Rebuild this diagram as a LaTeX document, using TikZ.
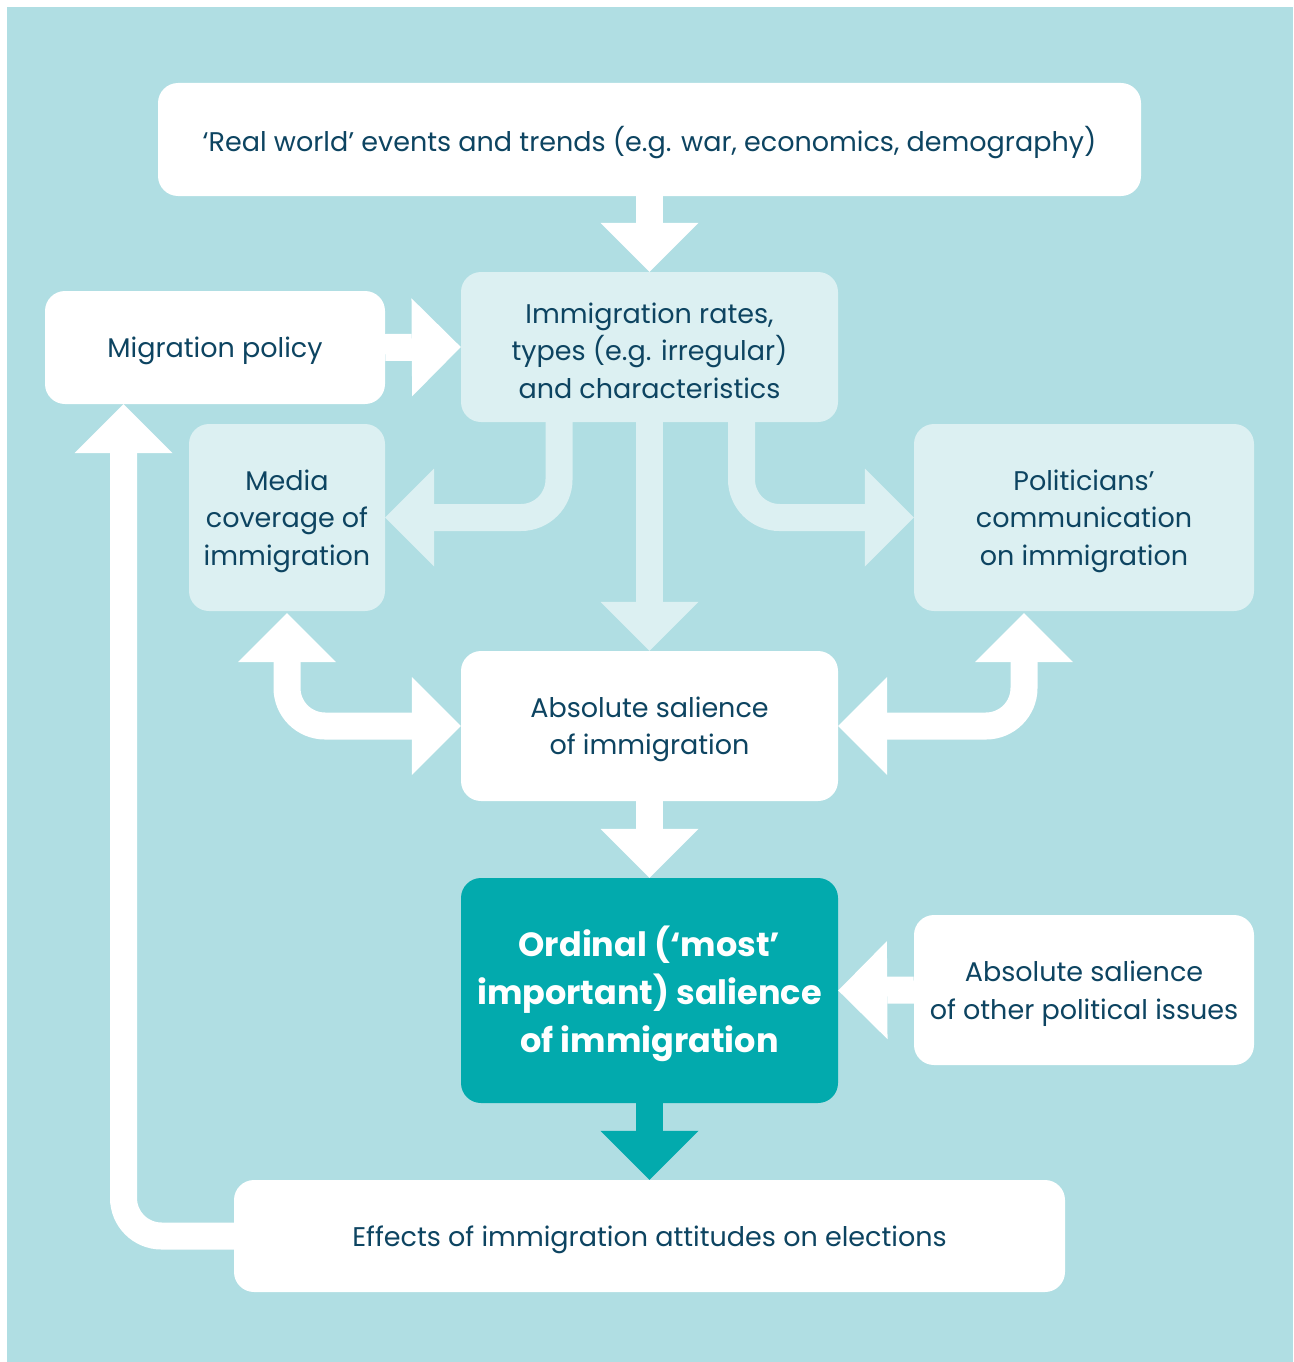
\documentclass[tikz,border=0pt]{standalone}
\usepackage{fontspec}
\setmainfont{Poppins}
\usetikzlibrary{arrows.meta,calc}
\definecolor{bgc}{HTML}{B0DEE3}
\definecolor{lightc}{HTML}{DCF0F2}
\definecolor{tealc}{HTML}{02AAAD}
\definecolor{textc}{HTML}{0D4461}
\tikzset{
  box/.style={rounded corners=20pt, inner sep=0pt},
  whitebox/.style={box, fill=white},
  lightbox/.style={box, fill=lightc},
  tealbox/.style={box, fill=tealc},
  txt/.style={inner sep=0pt, align=center, text=textc, yshift=-3.5pt,
    font=\fontsize{27}{37.5}\selectfont},
  boldtxt/.style={txt, text=white, font=\fontsize{33.5}{48}\selectfont\bfseries},
  barrow/.style={line width=27pt, draw=#1, rounded corners=38pt, -{Triangle[width=98pt,length=49pt,line width=0pt]}},
  dbarrow/.style={line width=27pt, draw=#1, rounded corners=38pt, {Triangle[width=98pt,length=49pt,line width=0pt]}-{Triangle[width=98pt,length=49pt,line width=0pt]}},
}
\begin{document}
\begin{tikzpicture}[x=1pt,y=-1pt]
\useasboundingbox (0,0) rectangle (1293,1362);
\fill[white] (0,0) rectangle (1293,1362);
\fill[bgc] (7,7) rectangle (1293,1362);

\node[whitebox, minimum width=983pt, minimum height=113pt] (real) at (649.5,139.5) {};
\node[whitebox, minimum width=340pt, minimum height=113pt] (policy) at (215,347.5) {};
\node[lightbox, minimum width=377pt, minimum height=150pt] (rates) at (649.5,347) {};
\node[lightbox, minimum width=196pt, minimum height=187pt] (media) at (287,517.5) {};
\node[lightbox, minimum width=340pt, minimum height=187pt] (pol) at (1084,517.5) {};
\node[whitebox, minimum width=377pt, minimum height=150pt] (abs) at (649.5,726) {};
\node[tealbox, minimum width=377pt, minimum height=225pt] (ord) at (649.5,990.5) {};
\node[whitebox, minimum width=340pt, minimum height=150pt] (other) at (1084,990) {};
\node[whitebox, minimum width=831pt, minimum height=112pt] (eff) at (649.5,1236) {};

\node[txt] (realT) at (real) {‘Real world’ events and trends (e.g. war, economics, demography)};
\node[txt] (policyT) at (policy) {Migration policy};
\node[txt] (ratesT) at (rates) {Immigration rates,\\types (e.g. irregular)\\and characteristics};
\node[txt] (mediaT) at (media) {Media\\coverage of\\immigration};
\node[txt] (polT) at (pol) {Politicians’\\communication\\on immigration};
\node[txt] (absT) at (abs) {Absolute salience\\of immigration};
\node[boldtxt] (ordT) at (ord) {Ordinal (‘most’\\important) salience\\of immigration};
\node[txt] (otherT) at (other) {Absolute salience\\of other political issues};
\node[txt] (effT) at (eff) {Effects of immigration attitudes on elections};

% arrows
\draw[barrow=white] (real.south) -- (rates.north);
\draw[barrow=white] (policy.east) -- (rates.west);
\draw[barrow=lightc] (rates.south) -- (abs.north);
\coordinate (dl) at ($(rates.south)+(-90.5,0)$);
\coordinate (dr) at ($(rates.south)+(92,0)$);
\draw[barrow=lightc] (dl) -- (dl |- media.east) -- (media.east);
\draw[barrow=lightc] (dr) -- (dr |- pol.west) -- (pol.west);
\coordinate (fl) at ($(media.south)+(0,2)$);
\coordinate (gr) at ($(pol.south)+(-60,2)$);
\draw[dbarrow=white] (fl) -- (fl |- abs.west) -- (abs.west);
\draw[dbarrow=white] (gr) -- (gr |- abs.east) -- (abs.east);
\draw[barrow=white] (abs.south) -- (ord.north);
\draw[barrow=white] (other.west) -- (ord.east);
\draw[barrow=tealc] (ord.south) -- (eff.north);
\coordinate (kl) at ($(policy.south)+(-91.5,0)$);
\draw[barrow=white] (eff.west) -- (kl |- eff.west) -- (kl);
\end{tikzpicture}
\end{document}
